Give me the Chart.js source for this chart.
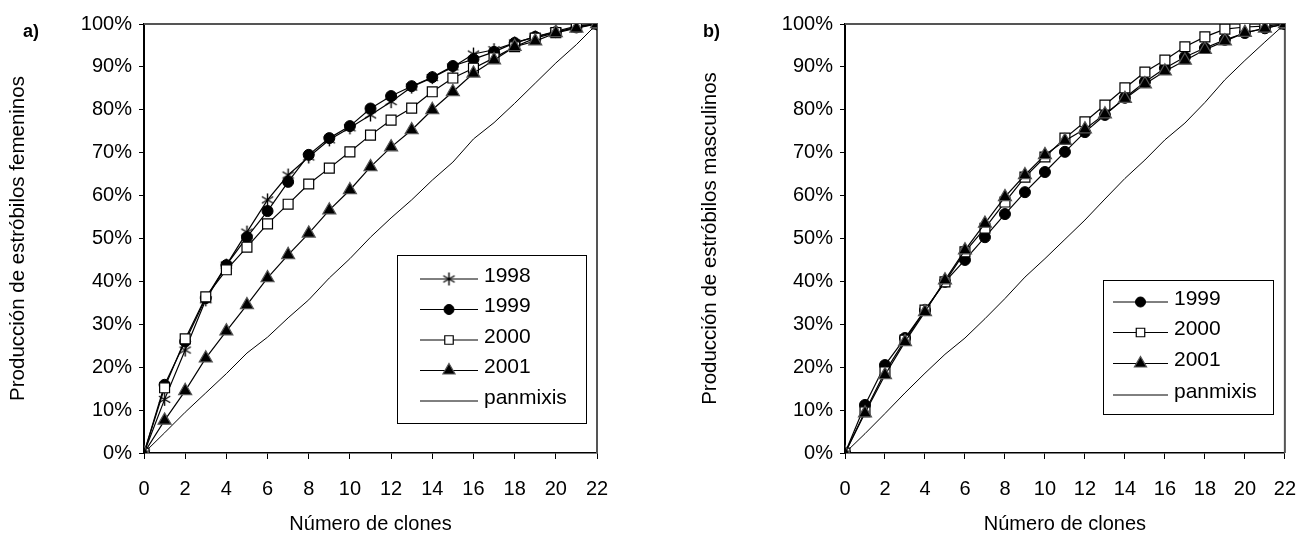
<!DOCTYPE html>
<html>
<head>
<meta charset="utf-8">
<script src="https://cdn.jsdelivr.net/npm/chart.js@4.4.1/dist/chart.umd.min.js"></script>
<style>
  body { margin: 0; background: #fff; width: 1314px; height: 542px; position: relative; overflow: hidden;
         font-family: "Liberation Sans", Arial, sans-serif; }
  .box { position: absolute; top: 0; width: 657px; height: 542px; }
  .tag { position: absolute; font-weight: bold; font-size: 18px; color: #000; }
</style>
</head>
<body>
<div class="box" style="left:0"><canvas id="chartA"></canvas></div>
<div class="box" style="left:657px"><canvas id="chartB"></canvas></div>
<div class="tag" style="left:23px;top:21px">a)</div>
<div class="tag" style="left:703px;top:21px">b)</div>
<script>
// número de clones
const clones = [0, 1, 2, 3, 4, 5, 6, 7, 8, 9, 10, 11, 12, 13, 14, 15, 16, 17, 18, 19, 20, 21, 22];
const xTicks = [0, 2, 4, 6, 8, 10, 12, 14, 16, 18, 20, 22];
const yTicks = [0, 10, 20, 30, 40, 50, 60, 70, 80, 90, 100];

// a) estróbilos femeninos (% acumulado)
const fem1998 = [0, 12.5, 24, 35.7, 43.8, 51.5, 59, 64.8, 69, 73, 75.8, 78.8, 81.9, 85.3, 87.5, 90, 93, 94, 95.6, 97, 98.3, 99.5, 100];
const fem1999 = [0, 15.9, 26, 36.1, 43.8, 50.3, 56.4, 63.2, 69.5, 73.4, 76.2, 80.3, 83.2, 85.5, 87.6, 90.2, 91.8, 93.5, 95.6, 97, 98.1, 99.2, 100];
const fem2000 = [0, 15.2, 26.6, 36.4, 42.7, 48, 53.4, 58, 62.7, 66.4, 70.2, 74.1, 77.6, 80.4, 84.2, 87.4, 89.7, 92.1, 94.7, 96.7, 98, 99.3, 100];
const fem2001 = [0, 7.6, 14.5, 22.1, 28.4, 34.5, 40.8, 46.2, 51.2, 56.6, 61.3, 66.7, 71.3, 75.3, 80, 84.2, 88.5, 91.6, 94.7, 96, 97.9, 99, 100];
const femPanmixis = [0, 4.7, 9.5, 14, 18.5, 23.3, 27, 31.5, 35.7, 40.8, 45.3, 50.3, 54.8, 59, 63.6, 67.8, 73.2, 77, 81.5, 86.2, 90.9, 95.2, 100];

// b) estróbilos masculinos
const masc1999 = [0, 11.2, 20.5, 26.8, 33.3, 39.9, 45, 50.3, 55.7, 60.8, 65.5, 70.2, 74.8, 78.8, 82.8, 86.5, 89.7, 92.3, 94.4, 96.3, 97.9, 99, 100];
const masc2000 = [0, 9.6, 18.9, 26.3, 33.3, 39.9, 46.9, 52.4, 58.5, 64.3, 69, 73.4, 77.2, 81.1, 85.1, 88.8, 91.6, 94.7, 97, 98.8, 99.3, 99.5, 100];
const masc2001 = [0, 9.3, 18.2, 25.9, 32.9, 40.3, 47.3, 53.5, 59.7, 64.8, 69.5, 72.8, 75.5, 79, 82.6, 86, 89, 91.5, 94, 96, 98, 99, 100];
const mascPanmixis = [0, 4.5, 9.2, 14, 18.6, 23, 26.8, 31.3, 36, 41, 45.3, 49.8, 54.3, 59.2, 64, 68.3, 73, 76.9, 81.7, 87, 91.5, 95.8, 100];

Chart.defaults.font.family = '"Liberation Sans", Arial, sans-serif';
Chart.defaults.color = '#000';

// asterisk marker (vertical bar + X)
function makeAsterisk(size) {
  const c = document.createElement('canvas');
  c.width = size; c.height = size;
  const g = c.getContext('2d');
  const m = size / 2, r = size / 2 - 1;
  g.strokeStyle = '#000';
  g.lineWidth = 1.4;
  g.beginPath();
  g.moveTo(m, m - r); g.lineTo(m, m + r);
  g.moveTo(m - r * 0.87, m - r * 0.5); g.lineTo(m + r * 0.87, m + r * 0.5);
  g.moveTo(m - r * 0.87, m + r * 0.5); g.lineTo(m + r * 0.87, m - r * 0.5);
  g.stroke();
  return c;
}
const asterisk = makeAsterisk(15);

const styles = {
  '1998': { pointStyle: asterisk, pointRadius: 7, pointBackgroundColor: '#000', pointBorderColor: '#000', pointBorderWidth: 1, order: 4 },
  '1999': { pointStyle: 'circle', pointRadius: 5.5, pointBackgroundColor: '#000', pointBorderColor: '#000', pointBorderWidth: 1, order: 3 },
  '2000': { pointStyle: 'rect', pointRadius: 7, pointBackgroundColor: '#fff', pointBorderColor: '#000', pointBorderWidth: 1.2, order: 2 },
  '2001': { pointStyle: 'triangle', pointRadius: 7.5, pointBackgroundColor: '#000', pointBorderColor: '#555', pointBorderWidth: 1.2, order: 1 },
  'panmixis': { pointStyle: false, pointRadius: 0, order: 5 }
};

function toPoints(ys) {
  return clones.map((c, i) => ({ x: c, y: ys[i] }));
}

function buildDatasets(series) {
  return series.map(([label, ys]) => Object.assign({
    label: label,
    data: toPoints(ys),
    borderColor: '#000',
    borderWidth: label === 'panmixis' ? 1 : 1.2,
    tension: 0,
    fill: false
  }, styles[label]));
}

// plot frame: grey top/right lines
const frame = {
  id: 'frame',
  beforeDatasetsDraw(chart) {
    const { ctx, chartArea: a } = chart;
    ctx.save();
    ctx.strokeStyle = '#555';
    ctx.lineWidth = 2;
    ctx.beginPath();
    ctx.moveTo(a.left, a.top);
    ctx.lineTo(a.right, a.top);
    ctx.lineTo(a.right, a.bottom);
    ctx.stroke();
    ctx.restore();
  }
};

// legend box inside the plot
const boxLegend = {
  id: 'boxLegend',
  afterDraw(chart, args, o) {
    const { ctx } = chart;
    ctx.save();
    ctx.fillStyle = '#fff';
    ctx.fillRect(o.x, o.y, o.w, o.h);
    ctx.strokeStyle = '#000';
    ctx.lineWidth = 1;
    ctx.strokeRect(o.x + 0.5, o.y + 0.5, o.w, o.h);
    ctx.font = '21px "Liberation Sans", Arial, sans-serif';
    ctx.textBaseline = 'middle';
    chart.data.datasets.forEach((ds, i) => {
      const y = o.rows[i];
      ctx.strokeStyle = '#000';
      ctx.lineWidth = 1;
      ctx.beginPath();
      ctx.moveTo(o.x0, y);
      ctx.lineTo(o.x1, y);
      ctx.stroke();
      if (ds.pointStyle) {
        ctx.fillStyle = ds.pointBackgroundColor;
        ctx.strokeStyle = ds.pointBorderColor;
        ctx.lineWidth = ds.pointBorderWidth;
        const r = ds.pointStyle === 'circle' ? 5 : (ds.pointStyle === 'rect' ? 6 : 7);
        Chart.helpers.drawPoint(ctx, { pointStyle: ds.pointStyle, radius: r, rotation: 0, borderWidth: ds.pointBorderWidth }, (o.x0 + o.x1) / 2, y);
      }
      ctx.fillStyle = '#000';
      ctx.fillText(ds.label, o.tx, y - 3);
    });
    ctx.restore();
  }
};

function makeChart(id, yTitle, series, pad, yWidth, legend) {
  return new Chart(document.getElementById(id), {
    type: 'line',
    data: { datasets: buildDatasets(series) },
    plugins: [frame, boxLegend],
    options: {
      responsive: true,
      maintainAspectRatio: false,
      animation: false,
      events: [],
      layout: { padding: pad },
      plugins: {
        legend: { display: false },
        tooltip: { enabled: false },
        boxLegend: legend
      },
      scales: {
        x: {
          type: 'linear',
          min: 0,
          max: 22,
          afterBuildTicks: s => { s.ticks = xTicks.map(v => ({ value: v })); },
          afterFit: s => { s.height = 83; },
          ticks: { font: { size: 20 }, color: '#000', padding: 18, maxRotation: 0, autoSkip: false },
          grid: { drawOnChartArea: false, tickLength: 6, color: '#000', lineWidth: 1 },
          border: { color: '#000', width: 1.5 },
          title: { display: true, text: 'Número de clones', font: { size: 20 }, color: '#000', padding: 0 }
        },
        y: {
          min: 0,
          max: 100,
          afterBuildTicks: s => { s.ticks = yTicks.map(v => ({ value: v })); },
          afterFit: s => { s.width = yWidth; },
          ticks: { font: { size: 20 }, color: '#000', padding: 7, autoSkip: false, callback: v => v + '%' },
          grid: { drawOnChartArea: false, tickLength: 5, color: '#000', lineWidth: 1 },
          border: { color: '#000', width: 2 },
          title: { display: true, text: yTitle, font: { size: 20.5 }, color: '#000', padding: 0 }
        }
      }
    }
  });
}

makeChart('chartA', 'Producción de estróbilos femeninos',
  [['1998', fem1998], ['1999', fem1999], ['2000', fem2000], ['2001', fem2001], ['panmixis', femPanmixis]],
  { left: 6, right: 60, top: 24, bottom: 6 }, 138,
  { x: 397, y: 255, w: 189, h: 168, rows: [279, 309.5, 340, 370.5, 401], x0: 420, x1: 478, tx: 484 });

makeChart('chartB', 'Producción de estróbilos masculinos',
  [['1999', masc1999], ['2000', masc2000], ['2001', masc2001], ['panmixis', mascPanmixis]],
  { left: 41, right: 21, top: 24, bottom: 6 }, 147,
  { x: 446, y: 280, w: 170, h: 134, rows: [302, 332.5, 363.5, 395], x0: 456, x1: 511, tx: 517 });
</script>
</body>
</html>
